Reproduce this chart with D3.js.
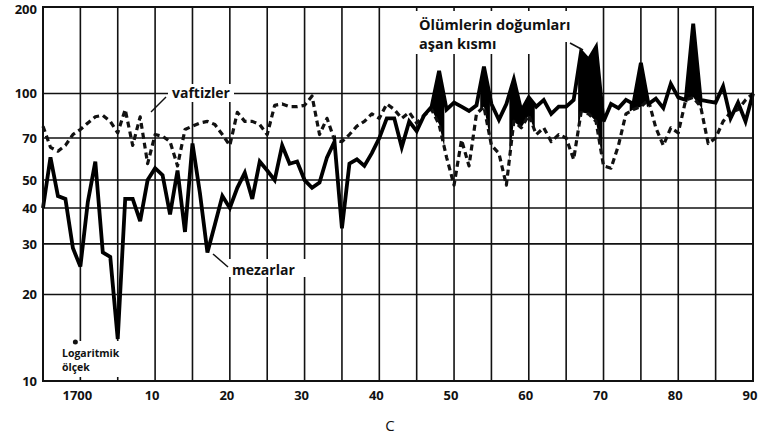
<!DOCTYPE html>
<html><head><meta charset="utf-8">
<script src="https://cdn.jsdelivr.net/npm/d3@7"></script>
<style>
html,body{margin:0;padding:0;background:#fff;}
svg{display:block;}
text{font-family:"Open Sans",sans-serif;fill:#111;}
</style></head>
<body>
<svg id="c" width="759" height="438"></svg>
<script>
// ---- data ----
const years = d3.range(1695, 1791);
const mezarlar = [40,60,44,43,29,25,42,58,28,27,14,43,43,36,50,55,52,38,54,33,
  67,45,28,35,44,40,47,53,43,58,54,50,66,57,58,50,47,49,60,68,
  34,57,59,56,62,70,82,82,65,80,74,84,90,120,88,93,90,87,91,124,
  92,81,92,112,87,97,90,95,85,90,90,95,140,131,145,80,92,89,95,92,
  128,92,96,89,108,97,95,175,95,94,93,106,82,93,80,100];
const vaftizler = [77,65,63,66,72,75,79,83,84,80,73,88,66,83,57,72,71,68,56,75,
  77,79,80,78,72,66,86,80,80,78,72,91,92,90,90,91,98,72,82,69,
  68,72,77,80,85,82,92,88,82,86,79,84,88,78,60,48,69,56,85,90,
  66,62,48,80,76,84,72,76,68,72,70,59,86,85,80,56,55,66,85,88,
  90,95,76,66,76,73,95,97,90,67,70,80,86,88,95,100];
const yTicks = [10,20,30,40,50,70,100,200];
const xTickYears = [1700,1710,1720,1730,1740,1750,1760,1770,1780,1790];
const xTickLabels = ["1700","10","20","30","40","50","60","70","80","90"];
const gridYears = d3.range(1700, 1791, 5);
// periods where deaths exceed births (shaded black)
const excessPeriods = [[1745.5,1748.7],[1753.5,1754.8],[1757.4,1760.8],[1766.6,1769.85],[1773.5,1776],[1781.2,1783.2]];

// ---- layout ----
const L = 43, R = 753, T = 7, B = 381;
const svg = d3.select("#c");
const x = d3.scaleLinear().domain([1695, 1790]).range([L, R]);
const y = d3.scaleLog().domain([10, 200]).range([B, T]);

// grid
const g = svg.append("g");
g.selectAll("line.h").data(yTicks).join("line")
  .attr("x1", L).attr("x2", R).attr("y1", d => y(d)).attr("y2", d => y(d))
  .attr("stroke", "#111").attr("stroke-width", 1.6);
g.selectAll("line.v").data(gridYears).join("line")
  .attr("x1", d => x(d)).attr("x2", d => x(d)).attr("y1", T).attr("y2", B)
  .attr("stroke", "#111").attr("stroke-width", 1.6);

// white boxes behind annotations (interrupt the grid)
svg.append("rect").attr("x", 405).attr("y", 11).attr("width", 160).attr("height", 43).attr("fill", "#fff");
svg.append("rect").attr("x", 565).attr("y", 11).attr("width", 24).attr("height", 31).attr("fill", "#fff");
svg.append("rect").attr("x", 58).attr("y", 341).attr("width", 68).attr("height", 36).attr("fill", "#fff");

// excess fill
const defs = svg.append("defs");
const cpP = defs.append("clipPath").attr("id", "periods");
cpP.selectAll("rect").data(excessPeriods).join("rect")
  .attr("x", d => x(d[0])).attr("width", d => x(d[1]) - x(d[0]))
  .attr("y", T).attr("height", B - T);
const pts = years.map((yr, i) => ({yr, m: mezarlar[i], v: vaftizler[i]}));
defs.append("clipPath").attr("id", "belowM").append("path")
  .attr("d", d3.area().x(d => x(d.yr)).y0(B).y1(d => y(d.m))(pts));
svg.append("g").attr("clip-path", "url(#periods)")
  .append("g").attr("clip-path", "url(#belowM)")
  .append("path")
  .attr("d", d3.area().x(d => x(d.yr)).y0(T).y1(d => y(d.v))(pts))
  .attr("fill", "#000");

// lines
svg.append("path").datum(pts)
  .attr("d", d3.line().x(d => x(d.yr)).y(d => y(d.v)))
  .attr("fill", "none").attr("stroke", "#111").attr("stroke-width", 3.2)
  .attr("stroke-dasharray", "6,4").attr("stroke-linejoin", "round");
svg.append("path").datum(pts)
  .attr("d", d3.line().x(d => x(d.yr)).y(d => y(d.m)))
  .attr("fill", "none").attr("stroke", "#000").attr("stroke-width", 3.8)
  .attr("stroke-linejoin", "miter");

// frame
svg.append("rect").attr("x", L).attr("y", T).attr("width", R - L).attr("height", B - T)
  .attr("fill", "none").attr("stroke", "#111").attr("stroke-width", 2);

// axes labels
svg.append("g").selectAll("text").data(yTicks).join("text")
  .attr("x", 37).attr("y", d => Math.max(y(d), 9)).attr("dy", "0.36em").attr("text-anchor", "end")
  .attr("font-size", 13).attr("font-weight", 700).text(d => d);
svg.append("g").selectAll("text").data(xTickYears).join("text")
  .attr("x", (d) => x(d) - 3).attr("y", 400).attr("text-anchor", "middle")
  .attr("font-size", 13).attr("font-weight", 700).text((d, i) => xTickLabels[i]);
svg.append("text").attr("x", 390).attr("y", 431).attr("text-anchor", "middle")
  .attr("font-size", 15).attr("font-weight", 400).text("C");

// series labels
svg.append("rect").attr("x", 168).attr("y", 84).attr("width", 66).attr("height", 18).attr("fill", "#fff");
svg.append("text").attr("x", 172).attr("y", 98).attr("font-size", 14).attr("font-weight", 700).text("vaftizler");
svg.append("line").attr("x1", 151).attr("y1", 112).attr("x2", 166).attr("y2", 97).attr("stroke", "#111").attr("stroke-width", 1.5);
svg.append("rect").attr("x", 229).attr("y", 259).attr("width", 80).attr("height", 18).attr("fill", "#fff");
svg.append("text").attr("x", 232).attr("y", 275).attr("font-size", 14).attr("font-weight", 700).text("mezarlar");
svg.append("line").attr("x1", 213).attr("y1", 254).attr("x2", 228).attr("y2", 267).attr("stroke", "#111").attr("stroke-width", 1.5);

// annotation
svg.append("text").attr("x", 419).attr("y", 30).attr("font-size", 14.5).attr("font-weight", 700).text("Ölümlerin doğumları");
svg.append("text").attr("x", 419).attr("y", 49).attr("font-size", 14.5).attr("font-weight", 700).text("aşan kısmı");
svg.append("line").attr("x1", 570).attr("y1", 43).attr("x2", 583).attr("y2", 50).attr("stroke", "#111").attr("stroke-width", 1.5);

// log scale note
svg.append("circle").attr("cx", x(1700) - 5).attr("cy", 342).attr("r", 2.5).attr("fill", "#111");
svg.append("text").attr("x", 62).attr("y", 357).attr("font-size", 10.5).attr("font-weight", 700).text("Logaritmik");
svg.append("text").attr("x", 62).attr("y", 371).attr("font-size", 10.5).attr("font-weight", 700).text("ölçek");
</script>
</body></html>
